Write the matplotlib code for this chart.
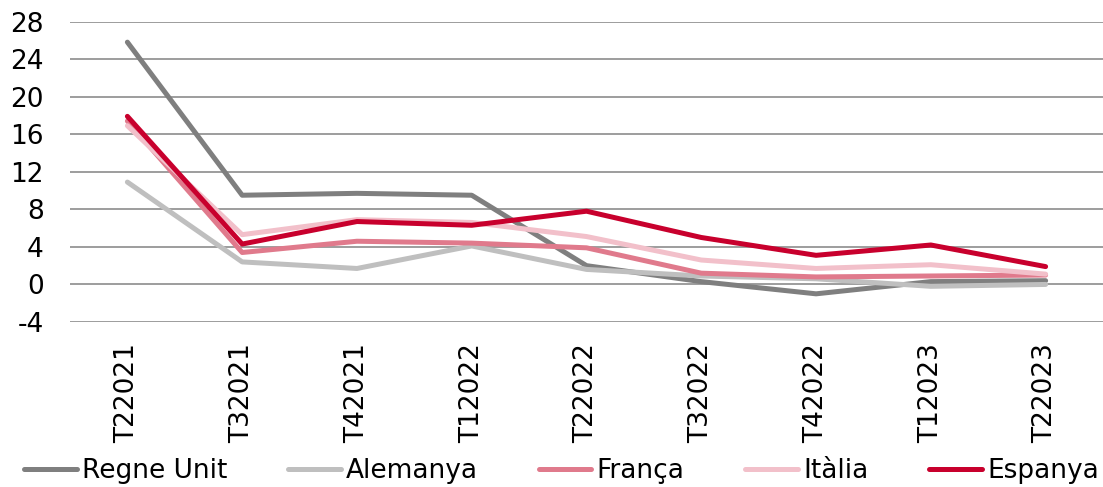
import numpy as np
import matplotlib.pyplot as plt

quarters = ['T22021', 'T32021', 'T42021', 'T12022', 'T22022',
            'T32022', 'T42022', 'T12023', 'T22023']

regne_unit = [25.8, 9.5, 9.7, 9.5, 2.0, 0.3, -1.0, 0.3, 0.4]
alemanya = [10.9, 2.4, 1.7, 4.1, 1.6, 0.9, 0.6, -0.2, 0.0]
franca = [17.4, 3.4, 4.6, 4.4, 3.9, 1.2, 0.8, 0.9, 1.0]
italia = [16.9, 5.3, 6.9, 6.6, 5.1, 2.6, 1.7, 2.1, 1.1]
espanya = [17.9, 4.3, 6.7, 6.3, 7.8, 5.0, 3.1, 4.2, 1.9]

series = [
    ('Regne Unit', regne_unit, '#7f7f7f'),
    ('Alemanya', alemanya, '#bfbfbf'),
    ('França', franca, '#e07a8c'),
    ('Itàlia', italia, '#f2c0ca'),
    ('Espanya', espanya, '#c8002d'),
]

plt.rcParams['font.family'] = ['DejaVu Sans']
plt.rcParams['axes.unicode_minus'] = False

fig = plt.figure(figsize=(11.03, 4.87), dpi=100)
ax = fig.add_axes([70 / 1103, 1 - 322 / 487, 1 - 70 / 1103, (322 - 21.5) / 487])

x = np.arange(len(quarters))
for name, vals, col in series:
    ax.plot(x, vals, color=col, lw=3.6, label=name, solid_capstyle='round', zorder=3)

ax.set_xlim(-0.5, len(quarters) - 0.5)
ax.set_ylim(-4, 28)
ax.set_yticks(np.arange(-4, 29, 4))
ax.set_xticks(x)
ax.set_xticklabels(quarters, rotation=90)
ax.yaxis.grid(True, color='#8c8c8c', lw=1.2)
ax.set_axisbelow(True)
for s in ax.spines.values():
    s.set_visible(False)
ax.tick_params(axis='y', length=0, pad=19, labelsize=19)
ax.tick_params(axis='x', length=0, pad=15, labelsize=19)

ax.legend(loc='center', bbox_to_anchor=(0.5 - 25 / 1033, (322 - 471) / 300.5), ncol=5,
          frameon=False, fontsize=19, handlelength=2.0, handletextpad=0.2,
          columnspacing=2.3, borderaxespad=0)

fig.savefig('out.png', dpi=100)
